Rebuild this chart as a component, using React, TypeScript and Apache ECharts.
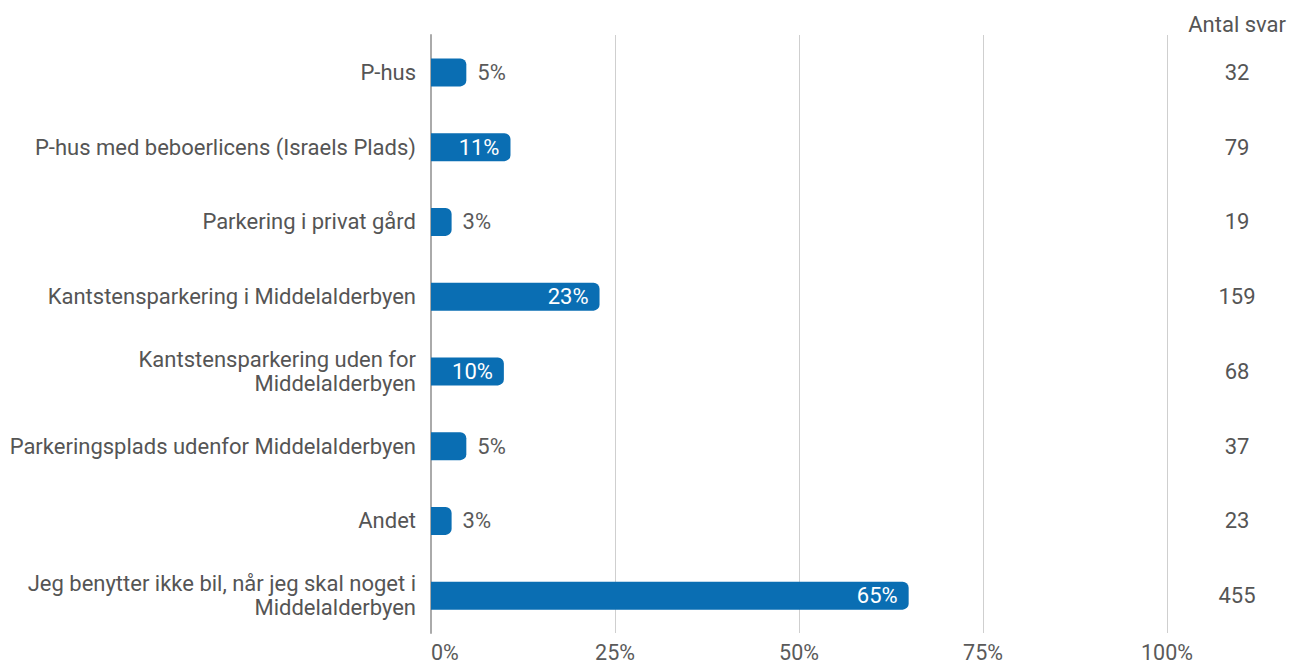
import React, { useEffect, useRef } from "react";
import * as echarts from "echarts";

const categories = [
  "P-hus",
  "P-hus med beboerlicens (Israels Plads)",
  "Parkering i privat gård",
  "Kantstensparkering i Middelalderbyen",
  "Kantstensparkering uden for\nMiddelalderbyen",
  "Parkeringsplads udenfor Middelalderbyen",
  "Andet",
  "Jeg benytter ikke bil, når jeg skal noget i\nMiddelalderbyen",
];
const shares = [4.8, 10.8, 2.8, 22.9, 9.9, 4.8, 2.8, 64.9];
const counts = [32, 79, 19, 159, 68, 37, 23, 455];
const xTicks = [0, 25, 50, 75, 100];

const BAR = "#0a6eb3";
const FONT = "Roboto, 'Noto Sans', sans-serif";

export default function App() {
  const ref = useRef<HTMLDivElement>(null);
  useEffect(() => {
    if (!ref.current) return;
    const chart = echarts.init(ref.current, undefined, { renderer: "svg" });
    chart.setOption({
      animation: false,
      textStyle: { fontFamily: FONT },
      title: {
        text: "Antal svar",
        right: 8,
        top: 8,
        textStyle: { fontSize: 22, fontWeight: "normal", color: "#555", fontFamily: FONT },
      },
      grid: { left: 431, right: 132, top: 35, bottom: 25 },
      xAxis: {
        type: "value",
        min: 0,
        max: 100,
        interval: 25,
        axisLine: { show: false },
        axisTick: { show: false },
        splitLine: { show: true, lineStyle: { color: "#cfcfcf", width: 1 } },
        axisLabel: {
          formatter: (v: number) => (xTicks.includes(v) ? v + "%" : ""),
          fontSize: 21.5,
          color: "#5a5a5a",
          margin: 8,
          alignMinLabel: "left",
        },
      },
      yAxis: [
        {
          type: "category",
          data: categories,
          inverse: true,
          axisLine: { show: true, lineStyle: { color: "#aaa", width: 2 } },
          axisTick: { show: false },
          axisLabel: {
            fontSize: 22,
            color: "#555",
            margin: 15,
            lineHeight: 24,
            align: "right",
          },
        },
        {
          type: "category",
          data: counts.map(String),
          inverse: true,
          position: "right",
          axisLine: { show: false },
          axisTick: { show: false },
          axisLabel: { fontSize: 22, color: "#555", margin: 70, align: "center" },
        },
      ],
      series: [
        {
          type: "bar",
          data: shares.map((v) => {
            const inside = v >= 8;
            return {
              value: v,
              label: {
                show: true,
                position: inside ? "insideRight" : "right",
                distance: 11,
                color: inside ? "#fff" : "#5a5a5a",
                fontSize: 22,
                formatter: Math.round(v) + "%",
              },
            };
          }),
          barWidth: 28,
          itemStyle: { color: BAR, borderRadius: [0, 6, 6, 0] },
        },
      ],
    });
    return () => chart.dispose();
  }, []);
  return <div ref={ref} style={{ width: 1299, height: 663, position: "absolute", left: 0, top: 0 }} />;
}
